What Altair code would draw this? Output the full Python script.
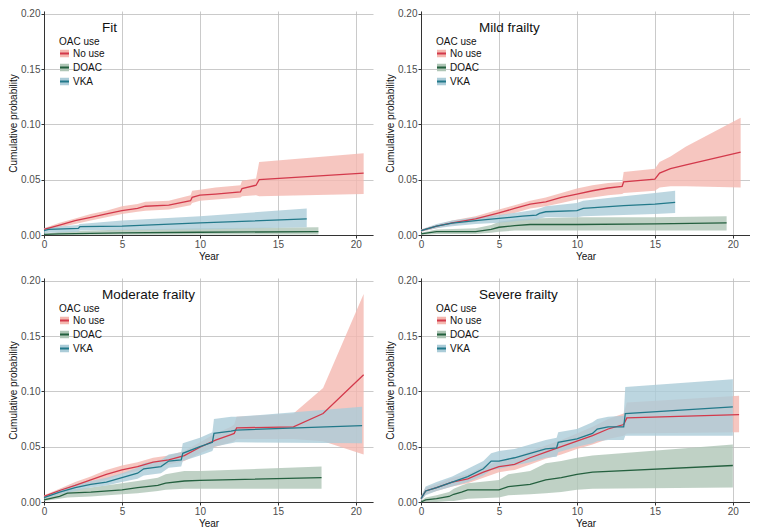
import altair as alt
import pandas as pd

# ---------------- data ----------------
panel_titles = ["Fit", "Mild frailty", "Moderate frailty", "Severe frailty"]
groups = ["No use", "DOAC", "VKA"]
line_colors = ["#D3394B", "#24603F", "#22798A"]
fill_colors = ["#F4B8B0", "#AFC6B6", "#ABCCD8"]
x_ticks = [0, 5, 10, 15, 20]
y_ticks = [0.0, 0.05, 0.10, 0.15, 0.20]

# Fit
fit_nouse_t = [0, 1, 2, 3, 4, 5, 6, 6.5, 8, 9.4, 9.5, 10, 11, 12.6, 12.7, 13.6, 13.8, 20.5]
fit_nouse_est = [0.005, 0.009, 0.013, 0.016, 0.019, 0.022, 0.024, 0.026, 0.027, 0.031, 0.034, 0.036, 0.037, 0.039, 0.042, 0.045, 0.050, 0.056]
fit_nouse_lo = [0.004, 0.007, 0.010, 0.013, 0.016, 0.019, 0.021, 0.022, 0.023, 0.027, 0.029, 0.031, 0.032, 0.034, 0.035, 0.036, 0.035, 0.037]
fit_nouse_hi = [0.006, 0.011, 0.015, 0.019, 0.022, 0.026, 0.028, 0.030, 0.031, 0.036, 0.040, 0.041, 0.043, 0.045, 0.049, 0.051, 0.066, 0.074]
fit_doac_t = [0, 1, 5, 10, 17.6]
fit_doac_est = [0.0005, 0.001, 0.002, 0.0025, 0.003]
fit_doac_lo = [0.0, 0.0, 0.0003, 0.0005, 0.0005]
fit_doac_hi = [0.001, 0.003, 0.005, 0.006, 0.007]
fit_vka_t = [0, 0.3, 2.2, 2.3, 5, 10, 16.85]
fit_vka_est = [0.004, 0.005, 0.006, 0.0075, 0.008, 0.011, 0.0145]
fit_vka_lo = [0.001, 0.002, 0.003, 0.004, 0.0045, 0.005, 0.007]
fit_vka_hi = [0.006, 0.007, 0.009, 0.010, 0.013, 0.017, 0.024]

# Mild frailty
mild_nouse_t = [0, 1, 2, 3.5, 5, 6, 7, 8, 9, 10, 11, 12, 12.9, 13.0, 15.0, 15.3, 16, 17, 20.5]
mild_nouse_est = [0.004, 0.008, 0.011, 0.0145, 0.020, 0.024, 0.028, 0.030, 0.034, 0.037, 0.040, 0.0425, 0.044, 0.048, 0.0505, 0.056, 0.060, 0.0635, 0.075]
mild_nouse_lo = [0.003, 0.006, 0.009, 0.012, 0.017, 0.020, 0.024, 0.026, 0.029, 0.032, 0.034, 0.036, 0.037, 0.038, 0.040, 0.043, 0.044, 0.044, 0.043]
mild_nouse_hi = [0.005, 0.009, 0.013, 0.017, 0.023, 0.027, 0.031, 0.034, 0.038, 0.042, 0.045, 0.047, 0.048, 0.057, 0.060, 0.066, 0.071, 0.080, 0.106]
mild_doac_t = [0, 1, 3.5, 4.5, 5, 6, 7, 10, 15, 19.6]
mild_doac_est = [0.001, 0.003, 0.003, 0.005, 0.007, 0.0085, 0.0095, 0.0095, 0.010, 0.011]
mild_doac_lo = [0.0, 0.001, 0.001, 0.002, 0.003, 0.004, 0.004, 0.004, 0.004, 0.004]
mild_doac_hi = [0.002, 0.005, 0.006, 0.009, 0.012, 0.014, 0.015, 0.016, 0.016, 0.017]
mild_vka_t = [0, 1, 2, 3.5, 5, 6.5, 7.4, 7.6, 8, 10, 10.4, 13, 15, 16.3]
mild_vka_est = [0.004, 0.008, 0.0107, 0.013, 0.015, 0.017, 0.018, 0.0195, 0.021, 0.022, 0.024, 0.0265, 0.028, 0.0295]
mild_vka_lo = [0.003, 0.006, 0.008, 0.010, 0.011, 0.013, 0.014, 0.015, 0.016, 0.016, 0.017, 0.018, 0.019, 0.020]
mild_vka_hi = [0.005, 0.010, 0.013, 0.016, 0.018, 0.021, 0.023, 0.024, 0.026, 0.029, 0.031, 0.035, 0.038, 0.040]

# Moderate frailty
mod_nouse_t = [0, 1, 2, 3, 4, 5, 6, 7, 8, 9, 10, 11, 12, 12.2, 12.35, 16, 17.9, 20.5]
mod_nouse_est = [0.005, 0.0104, 0.015, 0.020, 0.025, 0.029, 0.032, 0.036, 0.038, 0.042, 0.0495, 0.056, 0.061, 0.062, 0.067, 0.068, 0.080, 0.115]
mod_nouse_lo = [0.004, 0.008, 0.012, 0.016, 0.020, 0.025, 0.028, 0.031, 0.034, 0.037, 0.044, 0.050, 0.054, 0.055, 0.057, 0.057, 0.055, 0.043]
mod_nouse_hi = [0.006, 0.012, 0.018, 0.023, 0.029, 0.033, 0.036, 0.040, 0.042, 0.046, 0.054, 0.062, 0.068, 0.070, 0.077, 0.080, 0.103, 0.188]
mod_doac_t = [0, 1, 1.5, 3, 5, 6, 7.3, 7.8, 9, 10, 17.8]
mod_doac_est = [0.002, 0.005, 0.008, 0.009, 0.011, 0.013, 0.015, 0.017, 0.019, 0.0195, 0.022]
mod_doac_lo = [0.001, 0.003, 0.004, 0.005, 0.007, 0.008, 0.010, 0.011, 0.012, 0.012, 0.012]
mod_doac_hi = [0.003, 0.008, 0.011, 0.013, 0.017, 0.019, 0.022, 0.025, 0.028, 0.028, 0.032]
mod_vka_t = [0, 1, 2, 3, 4, 5, 6, 6.4, 7.5, 8.0, 8.8, 8.9, 10, 10.8, 10.9, 12, 12.3, 20.4]
mod_vka_est = [0.004, 0.009, 0.013, 0.016, 0.018, 0.022, 0.026, 0.030, 0.032, 0.037, 0.038, 0.044, 0.050, 0.054, 0.062, 0.064, 0.065, 0.069]
mod_vka_lo = [0.003, 0.007, 0.010, 0.013, 0.015, 0.018, 0.021, 0.024, 0.026, 0.031, 0.032, 0.037, 0.042, 0.046, 0.050, 0.053, 0.054, 0.053]
mod_vka_hi = [0.005, 0.011, 0.016, 0.019, 0.022, 0.026, 0.031, 0.035, 0.038, 0.043, 0.045, 0.053, 0.058, 0.063, 0.075, 0.077, 0.077, 0.086]

# Severe frailty
sev_nouse_t = [0, 0.3, 1, 2, 3, 4, 5, 6, 7, 8, 9, 10, 11, 12, 13, 13.2, 20.4]
sev_nouse_est = [0.003, 0.010, 0.013, 0.018, 0.021, 0.027, 0.032, 0.034, 0.040, 0.045, 0.050, 0.055, 0.060, 0.066, 0.070, 0.076, 0.079]
sev_nouse_lo = [0.001, 0.007, 0.010, 0.014, 0.017, 0.022, 0.027, 0.029, 0.034, 0.039, 0.043, 0.048, 0.052, 0.057, 0.060, 0.062, 0.063]
sev_nouse_hi = [0.005, 0.013, 0.016, 0.022, 0.025, 0.032, 0.037, 0.040, 0.046, 0.051, 0.056, 0.062, 0.068, 0.075, 0.080, 0.090, 0.096]
sev_doac_t = [0, 0.3, 1, 1.8, 2.1, 2.6, 3, 5, 5.6, 7, 8, 9, 10, 11, 20]
sev_doac_est = [0.000, 0.002, 0.003, 0.005, 0.007, 0.009, 0.011, 0.011, 0.014, 0.016, 0.020, 0.022, 0.025, 0.027, 0.033]
sev_doac_lo = [0.0, 0.0, 0.0, 0.001, 0.001, 0.002, 0.003, 0.004, 0.006, 0.007, 0.008, 0.009, 0.011, 0.012, 0.013]
sev_doac_hi = [0.001, 0.004, 0.006, 0.009, 0.012, 0.015, 0.017, 0.020, 0.025, 0.028, 0.035, 0.037, 0.040, 0.042, 0.052]
sev_vka_t = [0, 0.3, 1, 2, 3, 4, 4.5, 5, 6, 7, 8, 8.7, 8.8, 10, 11, 11.3, 12, 13, 13.1, 20]
sev_vka_est = [0.003, 0.010, 0.013, 0.018, 0.023, 0.030, 0.037, 0.037, 0.040, 0.044, 0.048, 0.049, 0.054, 0.057, 0.062, 0.066, 0.068, 0.068, 0.080, 0.086]
sev_vka_lo = [0.001, 0.006, 0.010, 0.014, 0.018, 0.024, 0.029, 0.030, 0.033, 0.036, 0.040, 0.041, 0.045, 0.050, 0.053, 0.055, 0.056, 0.056, 0.060, 0.060]
sev_vka_hi = [0.005, 0.014, 0.018, 0.023, 0.030, 0.037, 0.044, 0.046, 0.048, 0.052, 0.056, 0.058, 0.063, 0.066, 0.072, 0.075, 0.077, 0.078, 0.104, 0.111]

series = {
    "Fit": {
        "No use": (fit_nouse_t, fit_nouse_est, fit_nouse_lo, fit_nouse_hi),
        "DOAC": (fit_doac_t, fit_doac_est, fit_doac_lo, fit_doac_hi),
        "VKA": (fit_vka_t, fit_vka_est, fit_vka_lo, fit_vka_hi),
    },
    "Mild frailty": {
        "No use": (mild_nouse_t, mild_nouse_est, mild_nouse_lo, mild_nouse_hi),
        "DOAC": (mild_doac_t, mild_doac_est, mild_doac_lo, mild_doac_hi),
        "VKA": (mild_vka_t, mild_vka_est, mild_vka_lo, mild_vka_hi),
    },
    "Moderate frailty": {
        "No use": (mod_nouse_t, mod_nouse_est, mod_nouse_lo, mod_nouse_hi),
        "DOAC": (mod_doac_t, mod_doac_est, mod_doac_lo, mod_doac_hi),
        "VKA": (mod_vka_t, mod_vka_est, mod_vka_lo, mod_vka_hi),
    },
    "Severe frailty": {
        "No use": (sev_nouse_t, sev_nouse_est, sev_nouse_lo, sev_nouse_hi),
        "DOAC": (sev_doac_t, sev_doac_est, sev_doac_lo, sev_doac_hi),
        "VKA": (sev_vka_t, sev_vka_est, sev_vka_lo, sev_vka_hi),
    },
}

rows = []
for p in panel_titles:
    for g in groups:
        ts, es, ls, hs = series[p][g]
        for t, e, l, h in zip(ts, es, ls, hs):
            rows.append({"panel": p, "OAC": g, "t": t, "est": e, "lo": l, "hi": h})
df = pd.DataFrame(rows)

W, H = 329, 224
FONT = "Liberation Sans"
x_scale = alt.Scale(domain=[0, 21.1], nice=False, zero=False)
y_scale = alt.Scale(domain=[0, 0.2025], nice=False)

# one legend per panel: pale box (fill) with the line drawn through its middle (dashed stroke
# that only covers the first, horizontal, part of the symbol path)
SYMBOL_PATH = "M-1,0H1V0.85H-1V-0.85H1V0"


def legend_def():
    return alt.Legend(orient="none", legendX=15, legendY=26, title="OAC use",
                      symbolType=SYMBOL_PATH, symbolSize=81, symbolStrokeWidth=2,
                      symbolDash=[9, 200], symbolOpacity=1)


def make_panel(name):
    d = df[df["panel"] == name]
    base = alt.Chart(d)
    band = base.mark_area(fillOpacity=0.8, interpolate="linear").encode(
        x=alt.X("t:Q", scale=x_scale,
                axis=alt.Axis(values=x_ticks, title="Year", labelFlush=False)),
        y=alt.Y("lo:Q", scale=y_scale,
                axis=alt.Axis(values=y_ticks, format=".2f", title="Cumulative probability")),
        y2="hi:Q",
        fill=alt.Fill("OAC:N", scale=alt.Scale(domain=groups, range=fill_colors), legend=legend_def()),
    )
    line = base.mark_line(strokeWidth=1.3).encode(
        x="t:Q",
        y="est:Q",
        stroke=alt.Stroke("OAC:N", scale=alt.Scale(domain=groups, range=line_colors), legend=legend_def()),
    )
    title = alt.Chart(pd.DataFrame({"title": [name]})).mark_text(
        align="left", baseline="alphabetic", fontSize=13.5, font=FONT, color="#111111"
    ).encode(text="title:N", x=alt.value(58), y=alt.value(21))
    return alt.layer(band, line, title).properties(width=W, height=H)


def hrow(a, b):
    return alt.hconcat(make_panel(a), make_panel(b), spacing=12).resolve_scale(
        fill="independent", stroke="independent").resolve_legend(fill="independent", stroke="independent")


chart = alt.vconcat(hrow(panel_titles[0], panel_titles[1]), hrow(panel_titles[2], panel_titles[3]),
                    spacing=14).resolve_scale(
    fill="independent", stroke="independent").resolve_legend(
    fill="independent", stroke="independent").configure_view(
    strokeWidth=0).configure_axis(
    grid=True, gridColor="#BDBDBD", gridWidth=0.8,
    domainColor="#333333", domainWidth=1, tickColor="#333333", tickSize=3,
    labelFontSize=10, labelColor="#4D4D4D", labelFont=FONT, labelPadding=1,
    titleFontSize=10, titleFontWeight="normal", titleColor="#111111", titleFont=FONT, titlePadding=2,
).configure_legend(
    padding=0, titleFontSize=10, titleFontWeight="normal", titleFont=FONT, titleColor="#111111",
    titlePadding=1, labelFontSize=10, labelFont=FONT, labelColor="#111111", labelOffset=3, rowPadding=-10,
).properties(background="white", padding=0)

chart.save("out.html", embed_options={"renderer": "svg", "actions": False})
